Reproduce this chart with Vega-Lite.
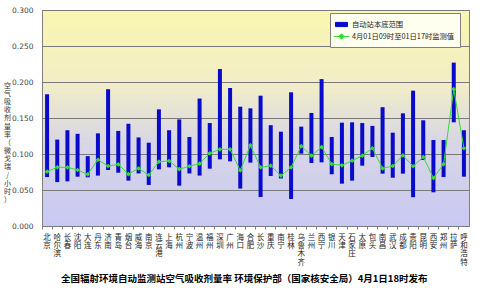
{
  "$schema": "https://vega.github.io/schema/vega-lite/v6.json",
  "autosize": "none",
  "width": 427,
  "height": 216,
  "padding": {"left": 42, "top": 10, "right": 31, "bottom": 62},
  "background": "white",
  "view": {
    "stroke": "#808080",
    "strokeWidth": 1,
    "fill": {
      "gradient": "linear", "x1": 0, "y1": 0, "x2": 0, "y2": 1,
      "stops": [
        {"offset": 0, "color": "#FAF7B0"},
        {"offset": 0.35, "color": "#F1EDC8"},
        {"offset": 0.6, "color": "#D9D7E4"},
        {"offset": 1, "color": "#C8C8F4"}
      ]
    }
  },
  "config": {
    "font": "Noto Sans CJK SC",
    "axis": {"labelFont": "Noto Sans CJK SC", "titleFont": "Noto Sans CJK SC"},
    "legend": {"labelFont": "Noto Sans CJK SC"}
  },
  "title": {
    "text": "全国辐射环境自动监测站空气吸收剂量率   环境保护部（国家核安全局）4月1日18时发布",
    "orient": "bottom",
    "frame": "bounds",
    "anchor": "middle",
    "offset": 8,
    "dx": 8,
    "fontSize": 9.5,
    "fontWeight": "bold",
    "color": "#000000",
    "font": "Noto Sans CJK SC"
  },
  "data": {
    "values": [
      {"city": "北京", "lo": 0.068, "hi": 0.183, "val": 0.0755},
      {"city": "哈尔滨", "lo": 0.061, "hi": 0.120, "val": 0.0815},
      {"city": "长春", "lo": 0.062, "hi": 0.133, "val": 0.0815},
      {"city": "沈阳", "lo": 0.0685, "hi": 0.128, "val": 0.0778},
      {"city": "大连", "lo": 0.0676, "hi": 0.097, "val": 0.0718},
      {"city": "丹东", "lo": 0.070, "hi": 0.1287, "val": 0.092},
      {"city": "济南", "lo": 0.0778, "hi": 0.190, "val": 0.0833},
      {"city": "青岛", "lo": 0.074, "hi": 0.132, "val": 0.0856},
      {"city": "烟台", "lo": 0.063, "hi": 0.142, "val": 0.072},
      {"city": "威海", "lo": 0.073, "hi": 0.123, "val": 0.080},
      {"city": "南京", "lo": 0.057, "hi": 0.1157, "val": 0.0708},
      {"city": "连云港", "lo": 0.0787, "hi": 0.162, "val": 0.0894},
      {"city": "上海", "lo": 0.0815, "hi": 0.133, "val": 0.0903},
      {"city": "杭州", "lo": 0.056, "hi": 0.148, "val": 0.079},
      {"city": "宁波", "lo": 0.073, "hi": 0.1236, "val": 0.083},
      {"city": "温州", "lo": 0.070, "hi": 0.177, "val": 0.0866},
      {"city": "福州", "lo": 0.0796, "hi": 0.143, "val": 0.101},
      {"city": "深圳", "lo": 0.0926, "hi": 0.218, "val": 0.1065},
      {"city": "广州", "lo": 0.0898, "hi": 0.1917, "val": 0.1065},
      {"city": "海口", "lo": 0.052, "hi": 0.1657, "val": 0.0773},
      {"city": "合肥", "lo": 0.088, "hi": 0.1634, "val": 0.112},
      {"city": "长沙", "lo": 0.0403, "hi": 0.181, "val": 0.0815},
      {"city": "重庆", "lo": 0.0694, "hi": 0.140, "val": 0.0838},
      {"city": "南宁", "lo": 0.066, "hi": 0.131, "val": 0.070},
      {"city": "桂林", "lo": 0.0375, "hi": 0.1857, "val": 0.0815},
      {"city": "乌鲁木齐", "lo": 0.1005, "hi": 0.138, "val": 0.111},
      {"city": "兰州", "lo": 0.0875, "hi": 0.157, "val": 0.0977},
      {"city": "西宁", "lo": 0.0884, "hi": 0.204, "val": 0.1097},
      {"city": "银川", "lo": 0.0718, "hi": 0.1236, "val": 0.086},
      {"city": "天津", "lo": 0.0588, "hi": 0.1435, "val": 0.0843},
      {"city": "石家庄", "lo": 0.063, "hi": 0.144, "val": 0.0907},
      {"city": "太原", "lo": 0.0838, "hi": 0.143, "val": 0.0977},
      {"city": "包头", "lo": 0.0958, "hi": 0.139, "val": 0.108},
      {"city": "南昌", "lo": 0.0727, "hi": 0.165, "val": 0.080},
      {"city": "武汉", "lo": 0.067, "hi": 0.1296, "val": 0.0833},
      {"city": "成都", "lo": 0.0727, "hi": 0.1565, "val": 0.098},
      {"city": "贵阳", "lo": 0.040, "hi": 0.188, "val": 0.083},
      {"city": "昆明", "lo": 0.0917, "hi": 0.1468, "val": 0.0958},
      {"city": "西安", "lo": 0.0468, "hi": 0.1194, "val": 0.0667},
      {"city": "郑州", "lo": 0.068, "hi": 0.1194, "val": 0.086},
      {"city": "拉萨", "lo": 0.144, "hi": 0.2269, "val": 0.190},
      {"city": "呼和浩特", "lo": 0.0685, "hi": 0.133, "val": 0.108}
    ]
  },
  "encoding": {
    "x": {
      "field": "city", "type": "nominal", "sort": null,
      "scale": {"paddingInner": 0, "paddingOuter": 0},
      "axis": {
        "title": null,
        "labelAngle": 0,
        "labelExpr": "split(datum.label, '')",
        "labelFontSize": 7.5,
        "labelLineHeight": 8.4,
        "labelColor": "#222222",
        "labelPadding": 4,
        "labelBaseline": "top",
        "labelOverlap": false,
        "tickSize": 3,
        "tickColor": "#808080",
        "bandPosition": 0,
        "domain": false,
        "grid": false
      }
    }
  },
  "layer": [
    {
      "mark": {"type": "bar", "size": 4},
      "encoding": {
        "y": {
          "field": "lo", "type": "quantitative",
          "scale": {"domain": [0, 0.3], "nice": false},
          "axis": {
            "values": [0, 0.05, 0.1, 0.15, 0.2, 0.25, 0.3],
            "format": ".3f",
            "labelOverlap": false,
            "labelFontSize": 7.5,
            "labelFont": "DejaVu Sans",
            "labelColor": "#444444",
            "labelPadding": 9,
            "ticks": false,
            "domain": false,
            "grid": true,
            "gridColor": "#7A7A7A",
            "gridWidth": 1,
            "gridOpacity": 1,
            "title": ["空","气","吸","收","剂","量","率","（","微","戈","瑞","/","小","时","）"],
            "titleAngle": 0,
            "titleFontSize": 7,
            "titleFontWeight": "normal",
            "titleLineHeight": 8.2,
            "titleColor": "#333333",
            "titleX": -35,
            "titleY": 71,
            "titleAlign": "center",
            "titleBaseline": "top"
          }
        },
        "y2": {"field": "hi"},
        "color": {
          "datum": "自动站本底范围",
          "scale": {
            "domain": ["自动站本底范围", "4月01日09时至01日17时监测值"],
            "range": ["#0A0ACB", "#33DD33"]
          },
          "legend": {
            "title": null,
            "orient": "none",
            "legendX": 288,
            "legendY": 3,
            "padding": 5,
            "rowPadding": 1,
            "fillColor": "#FFFFF0",
            "strokeColor": "#808080",
            "labelFontSize": 7.3,
            "labelOffset": 4,
            "labelColor": "#222222",
            "symbolSize": 144,
            "encode": {
              "symbols": {
                "update": {
                  "shape": {"signal": "datum.value == '自动站本底范围' ? 'M-1,-0.35H1V0.35H-1Z' : 'M-1.3,0H1.3M0,-0.45L0.45,0L0,0.45L-0.45,0Z'"},
                  "fill": {"signal": "datum.value == '自动站本底范围' ? '#0A0ACB' : '#33DD33'"},
                  "stroke": {"signal": "datum.value == '自动站本底范围' ? '#0A0ACB' : '#33DD33'"},
                  "strokeWidth": {"value": 1},
                  "opacity": {"value": 1},
                  "fillOpacity": {"value": 1},
                  "strokeOpacity": {"value": 1}
                }
              }
            }
          }
        }
      }
    },
    {
      "mark": {"type": "line", "strokeWidth": 1, "point": {"shape": "diamond", "size": 22, "filled": true}},
      "encoding": {
        "y": {
          "field": "val", "type": "quantitative",
          "axis": {
            "values": [0, 0.05, 0.1, 0.15, 0.2, 0.25, 0.3],
            "format": ".3f",
            "labelOverlap": false,
            "grid": true
          }
        },
        "color": {"datum": "4月01日09时至01日17时监测值"}
      }
    }
  ]
}
